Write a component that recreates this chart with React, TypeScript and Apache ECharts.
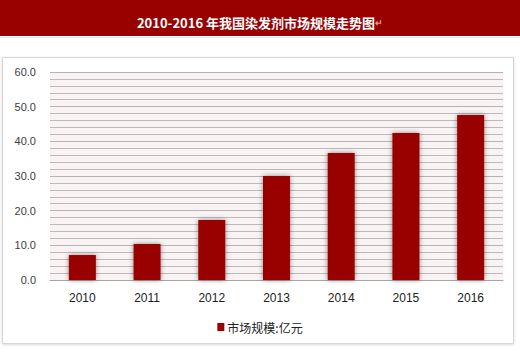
import React, { useEffect, useRef } from "react";
import * as echarts from "echarts";

const categories = ["2010", "2011", "2012", "2013", "2014", "2015", "2016"];
const marketSize = [7.2, 10.4, 17.3, 30.0, 36.6, 42.4, 47.6];
const seriesName = "市场规模:亿元";
const titleText = "2010-2016 年我国染发剂市场规模走势图";

export default function App() {
  const ref = useRef<HTMLDivElement>(null);
  useEffect(() => {
    document.body.style.margin = "0";
    const chart = echarts.init(ref.current!, null, { renderer: "svg" });
    chart.setOption({
      animation: false,
      backgroundColor: "#ffffff",
      title: {
        text: "{m|" + titleText + "}{p|↵}",
        left: "center",
        top: 11,
        textStyle: {
          rich: {
            m: { color: "#ffffff", fontSize: 13, fontWeight: "bold", fontFamily: "Noto Sans CJK SC, sans-serif" },
            p: { color: "#d8a0a0", fontSize: 9 },
          },
        },
      },
      graphic: [
        { type: "rect", z: -10, shape: { x: 0, y: 0, width: 520, height: 36 }, style: { fill: "#990000" } },
        { type: "line", z: -10, shape: { x1: 0, y1: 37.5, x2: 520, y2: 37.5 }, style: { stroke: "#e4e4e4", lineWidth: 1 } },
        {
          type: "rect",
          z: -10,
          shape: { x: 2.5, y: 57.5, width: 511, height: 286 },
          style: { fill: "#ffffff", stroke: "#d6d6d6", lineWidth: 1, shadowBlur: 3, shadowColor: "rgba(0,0,0,0.15)", shadowOffsetY: 1 },
        },
      ],
      grid: {
        left: 50,
        right: 17,
        top: 72,
        bottom: 74,
        show: true,
        backgroundColor: "#faf3f3",
        borderWidth: 0,
      },
      legend: {
        data: [seriesName],
        left: "center",
        top: 316,
        icon: "rect",
        itemWidth: 7,
        itemHeight: 8,
        itemGap: 4,
        textStyle: { fontSize: 12, color: "#222222", fontFamily: "Noto Sans CJK SC, sans-serif", padding: [0, 0, 0, -2] },
      },
      xAxis: {
        type: "category",
        data: categories,
        axisTick: { show: false },
        axisLine: { lineStyle: { color: "#a6a6a6" } },
        axisLabel: { color: "#222222", fontSize: 12, margin: 12, fontFamily: "Liberation Sans, sans-serif" },
      },
      yAxis: {
        type: "value",
        min: 0,
        max: 60,
        interval: 10,
        axisLine: { show: false },
        axisTick: { show: false },
        axisLabel: {
          color: "#404040",
          fontSize: 11,
          margin: 14,
          fontFamily: "Liberation Sans, sans-serif",
          formatter: (v: number) => v.toFixed(1),
        },
        splitLine: { lineStyle: { color: "#b3b3b3", width: 1 } },
        minorTick: { show: false, splitNumber: 5 },
        minorSplitLine: { show: true, lineStyle: { color: "#bababa", width: 1 } },
      },
      series: [
        {
          name: seriesName,
          type: "bar",
          data: marketSize,
          barWidth: 27,
          itemStyle: {
            color: "#990000",
            shadowColor: "rgba(0,0,0,0.45)",
            shadowBlur: 5,
            shadowOffsetX: 0,
            shadowOffsetY: 0,
          },
        },
      ],
    });
    return () => chart.dispose();
  }, []);
  return <div ref={ref} style={{ width: 520, height: 354 }} />;
}
